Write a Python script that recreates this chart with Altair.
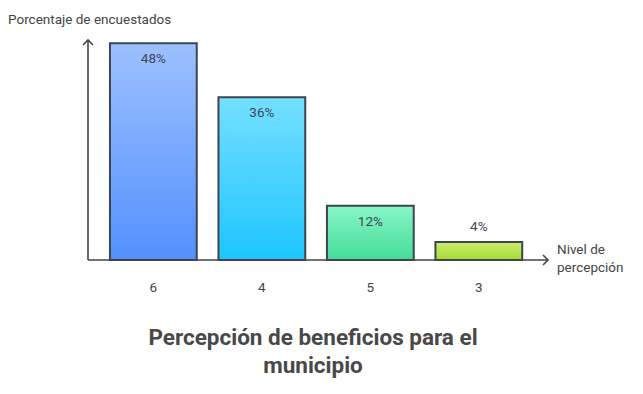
import altair as alt
import pandas as pd

categories = ["6", "4", "5", "3"]
values = [48, 36, 12, 4]
labels = ["48%", "36%", "12%", "4%"]
grad_top = ["#9DC1FF", "#74DFFF", "#88F5C6", "#CBEE6E"]
grad_bottom = ["#5390FF", "#1EC5FF", "#44DC97", "#A5DA36"]

df = pd.DataFrame({"cat": categories, "val": values, "label": labels})
one = pd.DataFrame({"k": [0]})

W, H = 460, 220
FONT = "Roboto"

xscale = alt.Scale(domain=categories, paddingInner=0.2, paddingOuter=0.22, align=0.46)
yscale = alt.Scale(domain=[0, 48.7])

x_enc = alt.X("cat:N", scale=xscale, sort=categories,
              axis=alt.Axis(title=None, domain=False, ticks=False, labelAngle=0,
                            labelPadding=20, labelFontSize=13.5, labelFont=FONT,
                            labelColor="#444444"))
y_enc = alt.Y("val:Q", scale=yscale, axis=None)

base = alt.Chart(df)
ann = alt.Chart(one)

layers = []
for c, t, b in zip(categories, grad_top, grad_bottom):
    grad = alt.LinearGradient(gradient="linear", x1=0, x2=0, y1=0, y2=1,
                              stops=[alt.GradientStop(color=t, offset=0),
                                     alt.GradientStop(color=b, offset=1)])
    layers.append(
        base.transform_filter(alt.datum.cat == c)
        .mark_bar(fill=grad, stroke="#3E4552", strokeWidth=2)
        .encode(x=x_enc, y=y_enc)
    )

inside = base.transform_filter(alt.datum.val >= 10).mark_text(
    baseline="middle", dy=16, fontSize=13.5, font=FONT, color="#3B4858"
).encode(x=x_enc, y=y_enc, text="label:N")
above = base.transform_filter(alt.datum.val < 10).mark_text(
    baseline="middle", dy=-15, fontSize=13.5, font=FONT, color="#3B4858"
).encode(x=x_enc, y=y_enc, text="label:N")

ax_color = "#444444"
yaxis = ann.mark_rule(color=ax_color, strokeWidth=1.6).encode(
    x=alt.value(0), y=alt.value(1), y2=alt.value(H))
xaxis = ann.mark_rule(color=ax_color, strokeWidth=1.6).encode(
    x=alt.value(0), x2=alt.value(W - 1), y=alt.value(H))
yarrow = ann.mark_point(shape="M-1,1 L0,0 L1,1", size=100, filled=False,
                        color=ax_color, strokeWidth=1.6, opacity=1).encode(
    x=alt.value(0), y=alt.value(0))
xarrow = ann.mark_point(shape="M-1,-1 L0,0 L-1,1", size=100, filled=False,
                        color=ax_color, strokeWidth=1.6, opacity=1).encode(
    x=alt.value(W), y=alt.value(H))

def txt(s, x, y, size=13.5, weight="normal", align="left", color="#444444"):
    return ann.mark_text(text=s, align=align, baseline="middle", fontSize=size,
                         fontWeight=weight, font=FONT, color=color).encode(
        x=alt.value(x), y=alt.value(y))

texts = [
    txt("Porcentaje de encuestados", -80, -20),
    txt("Nivel de", 469, 210),
    txt("percepción", 469, 228),
    txt("Percepción de beneficios para el", 225, 298, size=22.5, weight="bold",
        align="center", color="#484848"),
    txt("municipio", 225, 326, size=22.5, weight="bold", align="center",
        color="#484848"),
]

chart = alt.layer(*layers, inside, above, yaxis, xaxis, yarrow, xarrow, *texts).properties(
    width=W, height=H, autosize="none",
    padding={"left": 80, "top": 32, "right": 80, "bottom": 122},
).configure_view(stroke=None)

chart.save("out.html", embed_options={"renderer": "svg", "actions": False})
